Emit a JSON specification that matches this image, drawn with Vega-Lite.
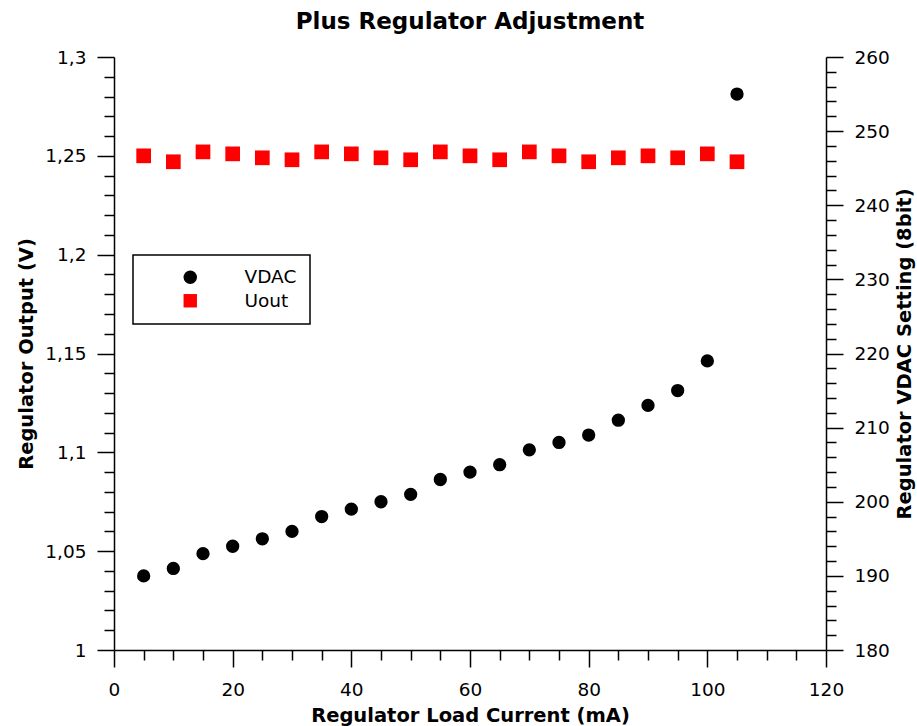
{
  "$schema": "https://vega.github.io/schema/vega-lite/v6.json",
  "autosize": {"type": "none"},
  "padding": {"left": 114, "top": 57, "right": 91, "bottom": 76},
  "width": 712,
  "height": 593,
  "background": "white",
  "title": {
    "text": "Plus Regulator Adjustment",
    "font": "DejaVu Sans",
    "fontSize": 23,
    "fontWeight": "bold",
    "color": "black",
    "anchor": "middle",
    "offset": 14
  },
  "config": {
    "view": {"stroke": null},
    "axis": {
      "grid": false,
      "domainColor": "black",
      "domainWidth": 1.5,
      "tickColor": "black",
      "tickWidth": 1.5,
      "labelFont": "DejaVu Sans",
      "labelFontSize": 18.5,
      "labelColor": "black",
      "titleFont": "DejaVu Sans",
      "titleFontSize": 19.5,
      "titleFontWeight": "bold",
      "titleColor": "black",
      "labelFlush": false,
      "labelOverlap": false
    },
    "legend": {
      "labelFont": "DejaVu Sans",
      "labelFontSize": 18.5,
      "labelColor": "black"
    }
  },
  "data": {
    "values": [
      {"current": 5, "vdac": 190, "uout": 1.250},
      {"current": 10, "vdac": 191, "uout": 1.247},
      {"current": 15, "vdac": 193, "uout": 1.252},
      {"current": 20, "vdac": 194, "uout": 1.251},
      {"current": 25, "vdac": 195, "uout": 1.249},
      {"current": 30, "vdac": 196, "uout": 1.248},
      {"current": 35, "vdac": 198, "uout": 1.252},
      {"current": 40, "vdac": 199, "uout": 1.251},
      {"current": 45, "vdac": 200, "uout": 1.249},
      {"current": 50, "vdac": 201, "uout": 1.248},
      {"current": 55, "vdac": 203, "uout": 1.252},
      {"current": 60, "vdac": 204, "uout": 1.250},
      {"current": 65, "vdac": 205, "uout": 1.248},
      {"current": 70, "vdac": 207, "uout": 1.252},
      {"current": 75, "vdac": 208, "uout": 1.250},
      {"current": 80, "vdac": 209, "uout": 1.247},
      {"current": 85, "vdac": 211, "uout": 1.249},
      {"current": 90, "vdac": 213, "uout": 1.250},
      {"current": 95, "vdac": 215, "uout": 1.249},
      {"current": 100, "vdac": 219, "uout": 1.251},
      {"current": 105, "vdac": 255, "uout": 1.247}
    ]
  },
  "layer": [
    {
      "mark": {"type": "point", "filled": true, "shape": "square", "size": 216, "opacity": 1},
      "encoding": {
        "x": {
          "field": "current",
          "type": "quantitative",
          "scale": {"domain": [0, 120], "nice": false, "zero": false},
          "axis": {
            "orient": "bottom",
            "title": "Regulator Load Current (mA)",
            "values": [0, 20, 40, 60, 80, 100, 120],
            "format": "d",
            "tickSize": 17,
            "labelPadding": 13,
            "titlePadding": 8
          }
        },
        "y": {
          "field": "uout",
          "type": "quantitative",
          "scale": {"domain": [1, 1.3], "nice": false, "zero": false},
          "axis": {
            "orient": "left",
            "title": "Regulator Output (V)",
            "values": [1, 1.05, 1.1, 1.15, 1.2, 1.25, 1.3],
            "labelExpr": "replace(format(datum.value, '.2~f'), '.', ',')",
            "tickSize": 17,
            "labelPadding": 11,
            "titlePadding": 8
          }
        },
        "color": {
          "datum": "Uout",
          "type": "nominal",
          "scale": {"domain": ["VDAC", "Uout"], "range": ["black", "#ff0000"]},
          "legend": {
            "title": null,
            "orient": "none",
            "legendX": 19,
            "legendY": 198,
            "padding": 13,
            "strokeColor": "black",
            "fillColor": "white",
            "symbolSize": 180,
            "symbolOffset": 35,
            "labelOffset": 45,
            "rowPadding": 4.5,
            "symbolOpacity": 1,
            "encode": {"legend": {"update": {"strokeWidth": {"value": 1.5}}}}
          }
        },
        "shape": {
          "datum": "Uout",
          "type": "nominal",
          "scale": {"domain": ["VDAC", "Uout"], "range": ["circle", "square"]},
          "legend": {"title": null}
        }
      }
    },
    {
      "mark": {"type": "point", "filled": true, "shape": "square", "size": 216, "opacity": 0},
      "encoding": {
        "x": {
          "field": "current",
          "type": "quantitative",
          "axis": {
            "orient": "bottom",
            "title": null,
            "labels": false,
            "domain": false,
            "values": [5, 10, 15, 25, 30, 35, 45, 50, 55, 65, 70, 75, 85, 90, 95, 105, 110, 115],
            "tickSize": 10
          }
        },
        "y": {
          "field": "uout",
          "type": "quantitative",
          "scale": {"domain": [1, 1.3], "nice": false, "zero": false},
          "axis": {
            "orient": "left",
            "title": null,
            "labels": false,
            "domain": false,
            "values": [1.01, 1.02, 1.03, 1.04, 1.06, 1.07, 1.08, 1.09, 1.11, 1.12, 1.13, 1.14, 1.16, 1.17, 1.18, 1.19, 1.21, 1.22, 1.23, 1.24, 1.26, 1.27, 1.28, 1.29],
            "tickSize": 10
          }
        }
      }
    },
    {
      "mark": {"type": "point", "filled": true, "shape": "circle", "size": 177, "opacity": 1},
      "encoding": {
        "x": {"field": "current", "type": "quantitative", "axis": null},
        "y": {
          "field": "vdac",
          "type": "quantitative",
          "scale": {"domain": [180, 260], "nice": false, "zero": false},
          "axis": {
            "orient": "right",
            "title": "Regulator VDAC Setting (8bit)",
            "values": [180, 190, 200, 210, 220, 230, 240, 250, 260],
            "format": "d",
            "tickSize": 17,
            "labelPadding": 11,
            "titlePadding": 6,
            "titleAngle": 270,
            "titleBaseline": "top"
          }
        },
        "color": {"datum": "VDAC", "type": "nominal"},
        "shape": {"datum": "VDAC", "type": "nominal"}
      }
    },
    {
      "mark": {"type": "point", "filled": true, "shape": "circle", "size": 177, "opacity": 0},
      "encoding": {
        "x": {"field": "current", "type": "quantitative", "axis": null},
        "y": {
          "field": "vdac",
          "type": "quantitative",
          "scale": {"domain": [180, 260], "nice": false, "zero": false},
          "axis": {
            "orient": "right",
            "title": null,
            "labels": false,
            "domain": false,
            "values": [182, 184, 186, 188, 192, 194, 196, 198, 202, 204, 206, 208, 212, 214, 216, 218, 222, 224, 226, 228, 232, 234, 236, 238, 242, 244, 246, 248, 252, 254, 256, 258],
            "tickSize": 10
          }
        }
      }
    }
  ],
  "resolve": {"scale": {"y": "independent"}, "axis": {"y": "independent", "x": "independent"}}
}
